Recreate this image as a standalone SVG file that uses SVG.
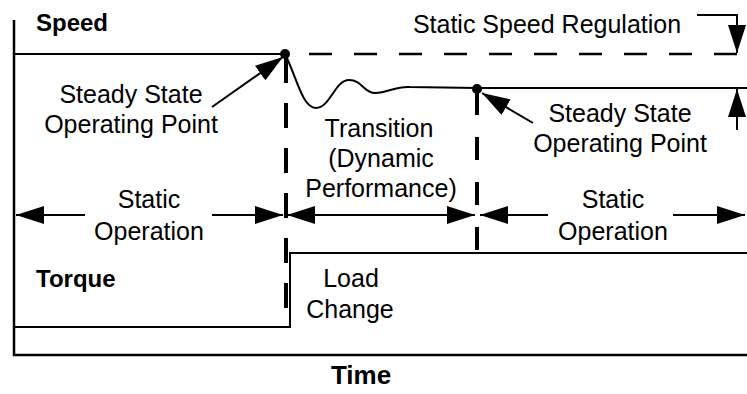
<svg xmlns="http://www.w3.org/2000/svg" width="747" height="394" viewBox="0 0 747 394">
<style>
text{font-family:"Liberation Sans",Arial,sans-serif;font-size:25px;fill:#000;text-anchor:middle}
.b{font-weight:bold;text-anchor:start;font-size:24px}
.ln{stroke:#000;stroke-width:2;fill:none}
.ax{stroke:#000;stroke-width:2.5;fill:none}
.dv{stroke:#000;stroke-width:4;fill:none;stroke-dasharray:25 20}
.dh{stroke:#000;stroke-width:2.5;fill:none;stroke-dasharray:23 22}
.ar{stroke:#000;stroke-width:2;fill:none;marker-end:url(#ah)}
</style>
<defs>
<marker id="ah" viewBox="0 0 28 18" refX="28" refY="9" markerWidth="28" markerHeight="18" markerUnits="userSpaceOnUse" orient="auto-start-reverse">
<path d="M0,0 L28,9 L0,18 z" fill="#000"/>
</marker>
</defs>
<g id="axes">
<path class="ax" d="M14,20 V355 H747"/>
</g>
<g id="speed-curve">
<path class="ln" d="M14,54 H285"/>
<path class="ln" d="M285,54 C296,75 302,108 316,108 C330,108 335,80 349,80 C362,80 364,93 375,93 C388,93 395,86 410,87 L477,88 L747,88"/>
<circle cx="285" cy="54" r="5" fill="#000"/>
<circle cx="477" cy="89" r="5" fill="#000"/>
</g>
<g id="torque-curve">
<path class="ln" d="M14,327 H290 V253 H747"/>
</g>
<g id="connectors">
<path class="dh" d="M737,54 H302" />
<path class="dv" d="M286,58 V310"/>
<path class="dv" d="M477,92 V252" style="stroke-dasharray:23 22"/>
<path class="ar" d="M212,107 L283,57"/>
<path class="ar" d="M533,123 L482,93"/>
<path class="ar" d="M697,15 H737 V53"/>
<path class="ar" d="M737,130 V89"/>
<path class="ar" d="M85,215 H16"/>
<path class="ar" d="M212,215 H283"/>
<path class="ar" d="M287,215 H475" style="marker-start:url(#ah)"/>
<path class="ar" d="M548,215 H480"/>
<path class="ar" d="M673,215 H745"/>
</g>
<g id="labels">
<text class="b" x="36" y="31">Speed</text>
<text class="b" x="36" y="287">Torque</text>
<text class="b" x="361" y="384" style="text-anchor:middle;font-size:26px">Time</text>
<text x="547" y="33">Static Speed Regulation</text>
<text x="131" y="103">Steady State</text>
<text x="131" y="133">Operating Point</text>
<text x="620" y="122">Steady State</text>
<text x="620" y="152">Operating Point</text>
<text x="379" y="137">Transition</text>
<text x="381" y="167">(Dynamic</text>
<text x="381" y="197">Performance)</text>
<text x="149" y="208">Static</text>
<text x="149" y="240">Operation</text>
<text x="613" y="208">Static</text>
<text x="613" y="240">Operation</text>
<text x="351" y="287">Load</text>
<text x="350" y="318">Change</text>
</g>
</svg>
